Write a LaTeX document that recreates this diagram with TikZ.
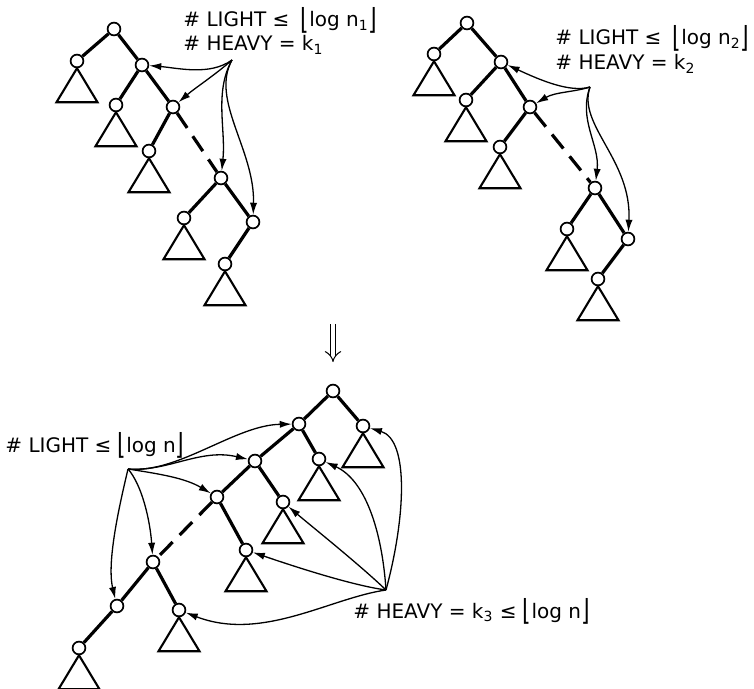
\documentclass[tikz,border=0pt]{standalone}
\usepackage{fontspec}
\setmainfont{DejaVu Sans}
\usetikzlibrary{arrows.meta}
\newcommand{\lfl}{\raisebox{-1.4pt}{\scalebox{1.1}[1.45]{⌊}}}
\newcommand{\rfl}{\raisebox{-1.4pt}{\scalebox{1.1}[1.45]{⌋}}}

\begin{document}
\begin{tikzpicture}[x=0.5pt,y=-0.5pt,>={Latex[length=6pt,width=3.6pt]},
  vtx/.style={circle,draw,line width=0.85pt,inner sep=0pt,minimum size=6.4pt,fill=white},
  edge/.style={line width=1.6pt},
  lnk/.style={->,line width=0.65pt},
  tri/.style={line width=1.05pt,line join=miter},
  lbl/.style={anchor=base west,inner sep=0pt,font=\fontsize{10}{12}\selectfont}]
\useasboundingbox (0,0) rectangle (754,689);
% first tree
\node[vtx] (r1) at (114,29) {};
\node[vtx] (a1) at (77,61) {};
\node[vtx] (b1) at (142,65) {};
\node[vtx] (c1) at (116,105) {};
\node[vtx] (d1) at (173,107) {};
\node[vtx] (e1) at (149,151) {};
\node[vtx] (f1) at (221,178) {};
\node[vtx] (g1) at (184,218) {};
\node[vtx] (h1) at (253,222) {};
\node[vtx] (i1) at (225,264) {};
\draw[edge] (a1) -- (r1) -- (b1) -- (c1);
\draw[edge] (b1) -- (d1) -- (e1);
\draw[edge,dash pattern=on 9pt off 5pt] (d1) -- (f1);
\draw[edge] (g1) -- (f1) -- (h1) -- (i1);
% second tree
\node[vtx] (r2) at (467,23) {};
\node[vtx] (a2) at (434,54) {};
\node[vtx] (b2) at (501,62) {};
\node[vtx] (c2) at (466,100) {};
\node[vtx] (d2) at (530,107) {};
\node[vtx] (e2) at (500,147) {};
\node[vtx] (f2) at (595,188) {};
\node[vtx] (g2) at (567,229) {};
\node[vtx] (h2) at (628,239) {};
\node[vtx] (i2) at (598,279) {};
\draw[edge] (a2) -- (r2) -- (b2) -- (c2);
\draw[edge] (b2) -- (d2) -- (e2);
\draw[edge,dash pattern=on 9pt off 5pt] (d2) -- (f2);
\draw[edge] (g2) -- (f2) -- (h2) -- (i2);
% merged tree
\node[vtx] (p0) at (333,391) {};
\node[vtx] (q0) at (363,426) {};
\node[vtx] (p1) at (299,424) {};
\node[vtx] (q1) at (319,459) {};
\node[vtx] (p2) at (255,461) {};
\node[vtx] (q2) at (283,502) {};
\node[vtx] (p3) at (217,497) {};
\node[vtx] (q3) at (246,550) {};
\node[vtx] (p4) at (153,562) {};
\node[vtx] (q4) at (179,610) {};
\node[vtx] (p5) at (117,606) {};
\node[vtx] (p6) at (79,648) {};
\draw[edge] (q0) -- (p0) -- (p1) -- (p2) -- (p3);
\draw[edge] (p1) -- (q1);
\draw[edge] (p2) -- (q2);
\draw[edge] (p3) -- (q3);
\draw[edge,dash pattern=on 9pt off 5pt] (p3) -- (p4);
\draw[edge] (q4) -- (p4) -- (p5) -- (p6);
% subtrees
\foreach \n in {a1,c1,e1,g1,i1,a2,c2,e2,g2,i2,q0,q1,q2,q3,q4,p6}
  \draw[tri] (\n.south) -- ++(-20.5,34) -- ++(41,0) -- cycle;
% labels
\node[lbl] (t1a) at (183,27) {\# LIGHT ≤\hspace{2.5pt} \lfl log n\textsubscript{1}\rfl};
\node[lbl] (t1b) at (183,51) {\# HEAVY = k\textsubscript{1}};
\node[lbl] (t2a) at (555,45) {\# LIGHT ≤\hspace{2.5pt} \lfl log n\textsubscript{2}\rfl};
\node[lbl] (t2b) at (555,70) {\# HEAVY = k\textsubscript{2}};
\node[lbl] (t3a) at (5,452) {\# LIGHT ≤ \lfl log n\rfl};
\node[lbl] (t3b) at (353,618) {\# HEAVY = k\textsubscript{3} ≤ \lfl log n\rfl};
% pointers
\coordinate (s1) at (232,60);
\draw[lnk] (s1) .. controls (210,76) and (178,68) .. (b1);
\draw[lnk] (s1) .. controls (215,75) and (195,88) .. (d1);
\draw[lnk] (s1) .. controls (214,92) and (226,130) .. (f1);
\draw[lnk] (s1) .. controls (210,100) and (255,150) .. (h1);
\coordinate (s2) at (590,87);
\draw[lnk] (s2) .. controls (570,93) and (540,80) .. (b2);
\draw[lnk] (s2) .. controls (575,92) and (555,92) .. (d2);
\draw[lnk] (s2) .. controls (578,120) and (600,145) .. (f2);
\draw[lnk] (s2) .. controls (577,125) and (632,160) .. (h2);
\coordinate (l3) at (128,469);
\draw[lnk] (l3) .. controls (178,474) and (235,425) .. (p1);
\draw[lnk] (l3) .. controls (168,472) and (200,448) .. (p2);
\draw[lnk] (l3) .. controls (160,474) and (185,478) .. (p3);
\draw[lnk] (l3) .. controls (142,485) and (150,520) .. (p4);
\draw[lnk] (l3) .. controls (122,495) and (106,560) .. (p5);
\coordinate (h3) at (386,590);
\draw[lnk] (h3) .. controls (405,520) and (410,440) .. (q0);
\draw[lnk] (h3) .. controls (382,530) and (365,480) .. (q1);
\draw[lnk] (h3) .. controls (360,565) and (310,525) .. (q2);
\draw[lnk] (h3) .. controls (350,585) and (290,565) .. (q3);
\draw[lnk] (h3) .. controls (330,598) and (262,642) .. (q4);
% merge arrow
\coordinate (dtop) at (333,324);
\coordinate (dbot) at (333,362);
\draw[double,double distance=2.4pt,line width=0.5pt,-{Implies}] (dtop) -- (dbot);
\end{tikzpicture}
\end{document}
